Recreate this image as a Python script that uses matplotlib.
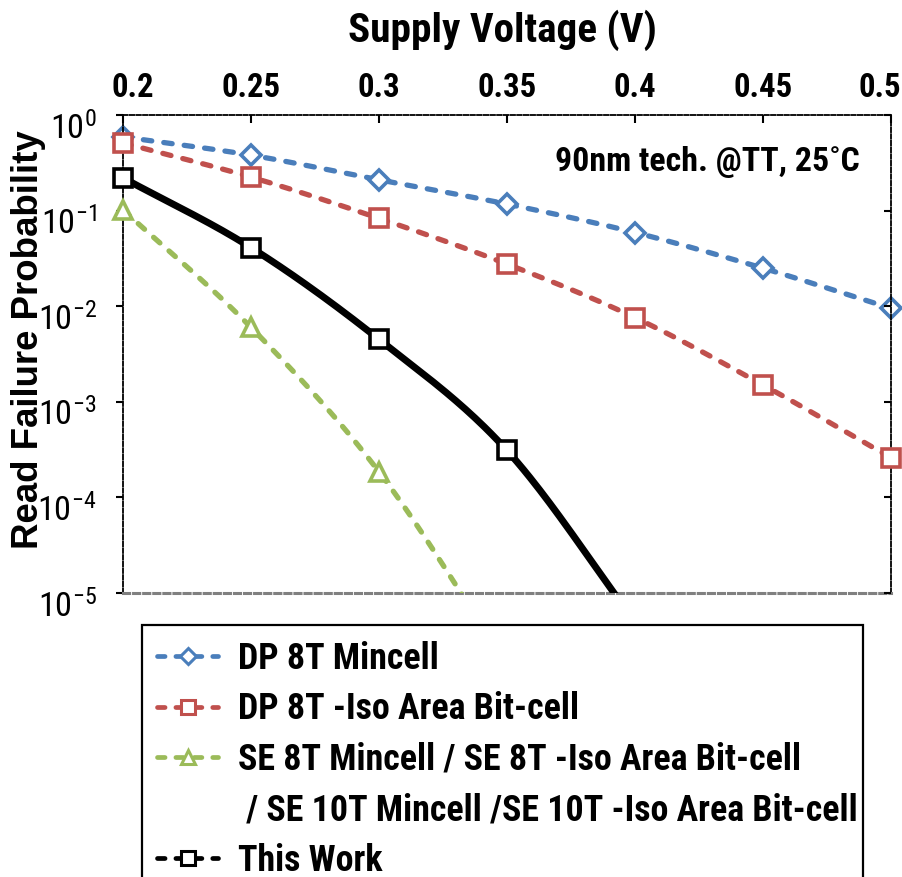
import numpy as np
import matplotlib
matplotlib.use("Agg")
import matplotlib.pyplot as plt
from matplotlib import font_manager
from matplotlib.font_manager import FontProperties
from matplotlib.lines import Line2D
from matplotlib.patches import Rectangle
from matplotlib.textpath import TextPath
from matplotlib.ticker import FixedLocator, NullLocator, FixedFormatter
from matplotlib.transforms import ScaledTranslation

# ---- data -------------------------------------------------------------
voltage = [0.2, 0.25, 0.3, 0.35, 0.4, 0.45, 0.5]
dp8t_mincell = [0.59, 0.38, 0.21, 0.117, 0.059, 0.025, 0.0095]
dp8t_iso = [0.51, 0.224, 0.083, 0.0276, 0.0076, 0.0015, 0.00026]

se_voltage = [0.2, 0.25, 0.3, 0.35]
se_cells = [0.102, 0.006, 1.85e-4, 1.8e-6]

tw_voltage = [0.2, 0.25, 0.3, 0.35, 0.4]
this_work = [0.22, 0.041, 0.0045, 3.1e-4, 5e-6]

x_ticks = [0.2, 0.25, 0.3, 0.35, 0.4, 0.45, 0.5]
x_tick_labels = ["0.2", "0.25", "0.3", "0.35", "0.4", "0.45", "0.5"]
y_ticks = [1e0, 1e-1, 1e-2, 1e-3, 1e-4, 1e-5]
y_tick_labels = [r"$\mathregular{10^{0}}$", r"$\mathregular{10^{-1}}$",
                 r"$\mathregular{10^{-2}}$", r"$\mathregular{10^{-3}}$",
                 r"$\mathregular{10^{-4}}$", r"$\mathregular{10^{-5}}$"]

labels = ["DP 8T Mincell",
          "DP 8T -Iso Area Bit-cell",
          "SE 8T Mincell / SE 8T -Iso Area Bit-cell",
          " / SE 10T Mincell /SE 10T -Iso Area Bit-cell",
          "This Work"]

# ---- fonts ------------------------------------------------------------
_fonts = font_manager.fontManager.ttflist


def _weights(name):
    out = set()
    for f in _fonts:
        if f.name == name:
            w = f.weight
            if isinstance(w, str):
                w = 700 if "bold" in w.lower() else 400
            out.add(int(w))
    return out


def pick_family(candidates, bold):
    for c in candidates:
        ws = _weights(c)
        if not ws:
            continue
        if bold and any(w >= 600 for w in ws):
            return c
        if not bold and any(350 <= w <= 500 for w in ws):
            return c
    return "Liberation Sans"


NARROW_LIST = ["Liberation Sans Narrow", "Arial Narrow", "Nimbus Sans Narrow",
               "Roboto Condensed", "Archivo Narrow", "PT Sans Narrow",
               "Asap Condensed", "Saira SemiCondensed"]
NARROW_B = pick_family(NARROW_LIST, True)
NARROW_R = pick_family(NARROW_LIST, False)
WIDE = "Liberation Sans"


def fit_size(text, family, weight, width_px, height_text, height_px):
    """Point size balancing a target ink width of `text` and ink height of `height_text`."""
    fp = FontProperties(family=family, weight=weight)
    h = TextPath((0, 0), height_text, size=100, prop=fp).get_extents().height
    if width_px is None:
        px = height_px / h * 100
    else:
        w = TextPath((0, 0), text, size=100, prop=fp).get_extents().width
        px = np.sqrt((width_px / w) * (height_px / h)) * 100
    return px * 72 / 100


plt.rcParams["font.family"] = [NARROW_R, "DejaVu Sans"]

title_size = fit_size("Supply Voltage (V)", NARROW_B, "bold", 305, "SV", 30)
xtick_size = fit_size("0.25", NARROW_B, "bold", 54, "0.25", 25)
legend_size = fit_size("DP 8T -Iso Area Bit-cell", NARROW_B, "bold", 330, "DP 8T", 27)
note_size = fit_size("90nm tech. @TT, 25˚C", NARROW_B, "bold", 312, "90TT", 24)
ytick_size = fit_size("10", NARROW_R, "normal", None, "10", 25)

BLUE = "#4a7ebb"
RED = "#c0504d"
GREEN = "#9bbb59"
BLACK = "#000000"


def smooth(xs, ys, n=40):
    """Cubic Hermite (Catmull-Rom) curve through the points, in log10(y)."""
    xs = np.asarray(xs, float)
    ly = np.log10(np.asarray(ys, float))
    m = np.empty_like(ly)
    m[1:-1] = (ly[2:] - ly[:-2]) / 2.0
    m[0] = ly[1] - ly[0]
    m[-1] = ly[-1] - ly[-2]
    ox, oy = [], []
    for i in range(len(xs) - 1):
        t = np.linspace(0, 1, n, endpoint=(i == len(xs) - 2))
        h00 = 2 * t**3 - 3 * t**2 + 1
        h10 = t**3 - 2 * t**2 + t
        h01 = -2 * t**3 + 3 * t**2
        h11 = t**3 - t**2
        ox.append(xs[i] + t * (xs[i + 1] - xs[i]))
        oy.append(h00 * ly[i] + h10 * m[i] + h01 * ly[i + 1] + h11 * m[i + 1])
    return np.concatenate(ox), 10 ** np.concatenate(oy)


fig = plt.figure(figsize=(9.02, 8.77), dpi=100)
W, H = 902, 877
ax = fig.add_axes([123 / W, 1 - 593 / H, (891 - 123) / W, (593 - 115) / H])
ax.set_yscale("log")
ax.set_xlim(0.2, 0.5)
ax.set_ylim(1e-5, 1)

dash = (0, (1.6, 2.3))
series = [
    (voltage, dp8t_mincell, BLUE, "D", 10, dash, 3.8, 2),
    (voltage, dp8t_iso, RED, "s", 12.5, dash, 3.8, 3),
    (se_voltage, se_cells, GREEN, "^", 13, dash, 3.8, 4),
    (tw_voltage, this_work, BLACK, "s", 12.5, "-", 5.0, 5),
]
handles = []
for xs, ys, col, mk, ms, ls, lw, z in series:
    sx, sy = smooth(xs, ys)
    ax.plot(sx, sy, color=col, lw=lw, linestyle=ls, dash_capstyle="round",
            solid_capstyle="round", zorder=z)
    xs_a = np.asarray(xs)
    ys_a = np.asarray(ys)
    vis = ys_a >= 1e-5
    ax.plot(xs_a[vis], ys_a[vis], linestyle="none", marker=mk, ms=ms,
            mfc="white", mec=col, mew=2.6, zorder=z + 0.5, clip_on=False)
    handles.append(Line2D([], [], color=col, lw=3.4, linestyle=dash,
                          dash_capstyle="round", marker=mk, ms=ms * 0.8,
                          mfc="white", mec=col, mew=2.2))

# axes frame
for side in ("top", "left", "right"):
    ax.spines[side].set_linestyle((0, (2.5, 1.2)))
    ax.spines[side].set_linewidth(1.3)
    ax.spines[side].set_color("black")
ax.spines["bottom"].set_color("#808080")
ax.spines["bottom"].set_linewidth(2.2)
ax.spines["bottom"].set_linestyle((0, (2.0, 1.3)))

# x axis on top
ax.xaxis.tick_top()
ax.xaxis.set_major_locator(FixedLocator(x_ticks))
ax.xaxis.set_major_formatter(FixedFormatter(x_tick_labels))
ax.tick_params(axis="x", which="major", direction="in", length=6, width=1.5,
               top=True, bottom=False, labeltop=True, labelbottom=False,
               labelsize=xtick_size, pad=8)
xlabels = ax.get_xticklabels()
for lab in xlabels:
    lab.set_fontweight("bold")
    lab.set_fontfamily(NARROW_B)
# end labels are nudged inward so they stay inside the figure
xlabels[0].set_transform(xlabels[0].get_transform()
                         + ScaledTranslation(10 / 100, 0, fig.dpi_scale_trans))
xlabels[-1].set_transform(xlabels[-1].get_transform()
                          + ScaledTranslation(-11 / 100, 0, fig.dpi_scale_trans))

ax.set_xlabel("Supply Voltage (V)", fontsize=title_size, fontweight="bold",
              family=NARROW_B)
ax.xaxis.set_label_position("top")
ax.xaxis.set_label_coords((502 - 123) / 768, (593 - 30) / 478)
ax.xaxis.label.set_va("center")

# y axis
ax.yaxis.set_major_locator(FixedLocator(y_ticks))
ax.yaxis.set_major_formatter(FixedFormatter(y_tick_labels))
ax.yaxis.set_minor_locator(NullLocator())
ax.tick_params(axis="y", which="major", direction="out", length=5, width=1.5,
               labelsize=ytick_size, pad=14)
shift = ScaledTranslation(0, -10 / 100, fig.dpi_scale_trans)
for lab in ax.get_yticklabels():
    lab.set_fontfamily(NARROW_R)
    lab.set_transform(lab.get_transform() + shift)

ax.set_ylabel("Read Failure Probability", fontsize=26.4, fontweight="bold",
              family=WIDE)
ax.yaxis.set_label_coords((29 - 123) / 768, (593 - 340) / 478)
ax.yaxis.label.set_va("center")

# inward ticks on the right edge
ax2 = ax.twinx()
ax2.set_yscale("log")
ax2.set_ylim(ax.get_ylim())
ax2.yaxis.set_major_locator(FixedLocator(y_ticks))
ax2.yaxis.set_minor_locator(NullLocator())
ax2.tick_params(axis="y", direction="in", length=5, width=1.5, labelright=False)
for s in ax2.spines.values():
    s.set_visible(False)

ax.text((860 - 123) / 768, (593 - 162) / 478, "90nm tech. @TT, 25˚C",
        transform=ax.transAxes, ha="right", va="center", fontsize=note_size,
        fontweight="bold", family=[NARROW_B, "DejaVu Sans"])

# legend
spacer = Line2D([], [], linestyle="none")
leg_handles = [handles[0], handles[1], handles[2], spacer, handles[3]]
leg = fig.legend(leg_handles, labels, loc="upper left",
                 bbox_to_anchor=(157 / W, 1 - 641 / H), frameon=False,
                 prop={"family": NARROW_B, "weight": "bold", "size": legend_size},
                 handlelength=1.7, handletextpad=0.55, labelspacing=0.4,
                 borderpad=0, borderaxespad=0, numpoints=1)
fig.patches.append(Rectangle((142 / W, -0.05), (863 - 142) / W, (1 - 625 / H) + 0.05,
                             transform=fig.transFigure, fill=False,
                             edgecolor="black", lw=1.6))

fig.savefig("out.png", dpi=100)
